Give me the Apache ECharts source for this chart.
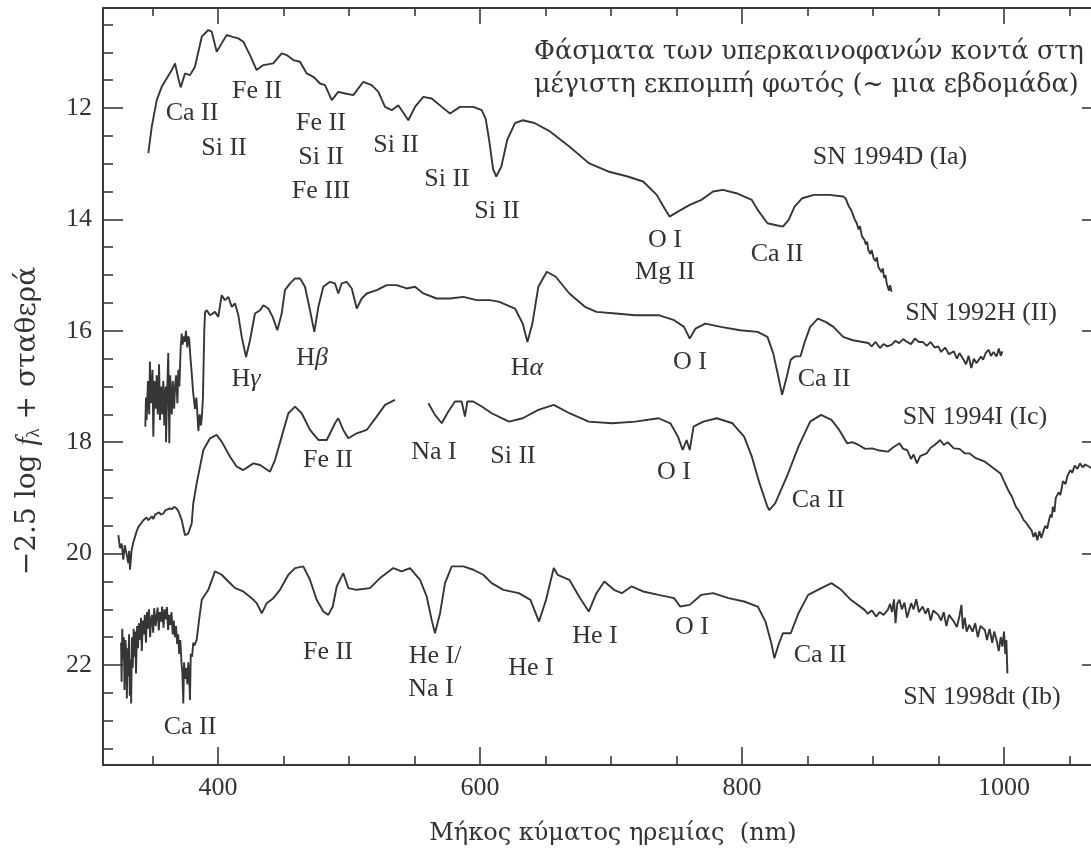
<!DOCTYPE html>
<html><head><meta charset="utf-8">
<script src="https://cdn.jsdelivr.net/npm/echarts@6/dist/echarts.min.js"></script>
<style>html,body{margin:0;padding:0;background:#fff}#c{width:1091px;height:851px}</style>
</head><body><div id="c"></div>
<script>
// ---------- data (wavelength nm, -2.5 log f + const) ----------
const xMajorTicks = [400, 600, 800, 1000];
const xMinorTicks = [350, 450, 500, 550, 650, 700, 750, 850, 900, 950, 1050];
const yMajorTicks = [12, 14, 16, 18, 20, 22];
const yMinorTicks = [10.5, 11, 11.5, 12.5, 13, 13.5, 14.5, 15, 15.5, 16.5, 17, 17.5, 18.5, 19, 19.5, 20.5, 21, 21.5, 22.5, 23, 23.5];

const sn1994D = [
[346.8,12.81],[349.4,12.34],[353.2,11.86],[357,11.62],[360.8,11.47],[364.7,11.32],[367.2,11.2],[369.7,11.47],[371.5,11.63],[374.8,11.38],[378.6,11.41],[382.4,11.26],[387.6,10.72],[392.6,10.6],[395.2,10.63],[399,10.99],[402.8,10.84],[406.6,10.69],[410.5,10.72],[415.5,10.75],[419.3,10.81],[424.4,11.05],[429.5,11.32],[434.6,11.23],[442.2,11.2],[448.6,11.02],[452.4,11.05],[457.5,11.14],[462.6,11.17],[467.7,11.38],[472.8,11.44],[477.9,11.56],[481.7,11.59],[486.8,11.86],[491.8,11.71],[497,11.74],[503.3,11.77],[510.9,11.53],[517.3,11.59],[522.4,11.71],[527.5,11.98],[532.6,12.04],[537.6,11.95],[545.3,12.22],[550.4,11.98],[556.7,11.8],[563.1,11.83],[570.8,11.98],[577.1,12.1],[584.7,11.98],[594.9,11.98],[601.3,12.04],[604.4,12.2],[607.1,12.6],[610,13.1],[612.4,13.23],[616.3,13.05],[620.8,12.57],[626.7,12.27],[632.6,12.22],[641.5,12.27],[653.4,12.42],[668.2,12.69],[683,12.99],[697.8,13.14],[712.7,13.23],[724.5,13.32],[734.9,13.56],[740.8,13.8],[744.7,13.95],[751.1,13.86],[760.1,13.74],[769,13.65],[777.9,13.5],[785.3,13.47],[795.7,13.53],[807.5,13.65],[812,13.83],[819.4,14.07],[825.3,14.1],[831.2,14.13],[835.6,14.01],[840.1,13.77],[846,13.62],[855,13.56],[866.8,13.56],[877.2,13.59],[879,13.62],[881.6,13.77],[883,13.82],[884.5,13.9],[886,14.0],[887.6,14.07],[889,14.18],[890,14.12],[891.5,14.3],[893.5,14.37],[894.5,14.45],[895.5,14.4],[896.4,14.55],[898,14.62],[899,14.55],[900.5,14.7],[902,14.75],[903,14.68],[904,14.85],[905.3,14.85],[906.5,14.95],[907.5,14.88],[908.5,15.05],[909.5,15.0],[910.5,15.15],[911.3,15.12],[912.2,15.28],[913,15.18],[914.2,15.3]
];

const sn1992H = [
[344.5,17.72],[345,17.2],[345.5,17.6],[346.5,16.9],[347.5,17.5],[348,16.55],[349,17.3],[350,16.7],[350.6,17.9],[351.5,16.9],[352.5,17.4],[353.2,16.8],[354,17.5],[355,16.6],[355.7,17.6],[356.5,17.0],[357.5,17.5],[358.2,16.9],[359,17.7],[360,17.0],[360.3,18.0],[361,17.3],[362,16.4],[362.8,18.02],[363.5,16.8],[364.7,17.5],[365.5,16.9],[366.5,17.4],[367.2,17.0],[368,16.8],[369,17.3],[369.7,16.7],[370.5,17.0],[371.5,16.3],[372.3,16.05],[373,16.25],[374,16.1],[374.8,16.2],[375.5,16.0],[376.5,16.3],[377.3,16.1],[378,16.15],[379,16.5],[379.9,16.75],[381,17.1],[382.4,17.4],[383.5,17.2],[384.5,17.6],[385,17.8],[386,17.5],[387,17.7],[387.6,17.56],[388.5,17.2],[389.5,16.0],[390.1,15.67],
[391.4,15.63],[393.9,15.72],[397.7,15.66],[400.2,15.75],[402.8,15.36],[405.3,15.45],[407.9,15.39],[410.5,15.57],[413,15.51],[415.5,15.72],[418.1,16.11],[421.4,16.47],[424.4,16.17],[428.2,15.69],[432.1,15.63],[434.6,15.54],[438.4,15.6],[441.7,15.75],[445.3,15.99],[448.6,15.69],[451.1,15.27],[455,15.15],[458.8,15.06],[462.6,15.06],[466.4,15.21],[470.2,15.63],[473.5,16.02],[476.6,15.57],[480.4,15.21],[485.5,15.12],[489.3,15.15],[491.8,15.33],[494.4,15.15],[498.2,15.12],[502.1,15.24],[505.9,15.6],[509.7,15.42],[513.5,15.33],[521.1,15.27],[528.8,15.18],[536.4,15.18],[544,15.24],[550.4,15.21],[556.7,15.33],[566.9,15.42],[577.1,15.42],[587.3,15.39],[597.5,15.45],[607.6,15.45],[614.8,15.48],[626.7,15.6],[632.6,15.87],[636.2,16.2],[640,15.87],[644.5,15.21],[651,14.94],[657.8,15.03],[668.2,15.33],[680.1,15.57],[688.9,15.66],[703.7,15.69],[718.5,15.72],[736.3,15.72],[748.2,15.81],[755.7,15.93],[760.1,16.14],[764.5,15.96],[771.9,15.87],[783.8,15.93],[798.6,15.99],[812,16.02],[819.4,16.11],[823.8,16.4],[827.7,16.82],[830.6,17.15],[834.2,16.82],[837.2,16.52],[840.2,16.46],[844.6,16.46],[847.6,16.22],[852,15.93],[857.9,15.78],[863.8,15.84],[869.8,15.93],[877.2,16.11],[884.6,16.17],[896.4,16.22],
[899,16.28],[902,16.2],[905.3,16.31],[908,16.24],[911,16.28],[914.3,16.25],[917,16.18],[920,16.22],[923,16.15],[926.1,16.2],[929,16.24],[932,16.14],[935,16.2],[937.9,16.2],[941,16.27],[944,16.2],[947,16.3],[949.8,16.28],[952,16.38],[955,16.3],[958,16.42],[961.7,16.37],[964,16.5],[966,16.4],[969.1,16.52],[971,16.6],[973,16.45],[975,16.67],[977,16.5],[979,16.58],[982.4,16.46],[984,16.52],[986,16.4],[988.3,16.34],[990,16.45],[992,16.38],[994.3,16.46],[996,16.32],[997.5,16.45],[998.7,16.37]
];

const sn1994I_blue = [
[323.9,19.67],[325.2,19.9],[326.5,19.82],[327.7,20.11],[328.8,19.85],[329.8,19.88],[330.6,20.05],[331.5,20.17],[332.2,19.95],[332.8,20.29],[334.1,19.93],[335.3,19.8],[336.6,19.7],[337.9,19.6],[339.2,19.52],[340.5,19.55],[341.5,19.45],[343,19.4],[344.5,19.42],[345.5,19.35],[346.8,19.4],[348.1,19.37],[349.5,19.33],[350.6,19.38],[352,19.3],[353.2,19.31],[355,19.26],[356.5,19.3],[358.2,19.28],[360,19.22],[361.5,19.25],[363.4,19.19],[365,19.2],[366.5,19.16],[368.5,19.19],[370,19.25],[372.3,19.4],[374.8,19.67],[377.3,19.64],[379.9,19.46],[381.1,19.1],[383.7,18.74],[388.8,18.14],[393.9,17.93],[399,17.87],[402.8,17.99],[409.2,18.26],[414.3,18.44],[419.3,18.5],[427,18.38],[432.1,18.41],[439.7,18.53],[443.5,18.32],[448.6,17.9],[453.7,17.48],[458.8,17.36],[463.9,17.48],[470.2,17.78],[476.6,17.96],[483,17.96],[489.3,17.66],[491.8,17.57],[495.6,17.78],[499.5,17.93],[505.9,17.84],[513.5,17.78],[521.1,17.54],[527.5,17.33],[535.1,17.24]
];
const sn1994I_red = [
[560.6,17.3],[565.6,17.51],[570.8,17.66],[575.8,17.45],[580.9,17.27],[586,17.27],[588.5,17.54],[590.3,17.27],[594.9,17.27],[601.3,17.36],[608.9,17.48],[615,17.55],[622.2,17.63],[632.6,17.57],[644.5,17.42],[656.3,17.33],[668.2,17.48],[683,17.63],[700.8,17.66],[718.5,17.63],[736.3,17.57],[745.3,17.66],[751.1,17.9],[754.7,18.14],[757.7,17.96],[760.1,18.14],[763,17.72],[770.4,17.63],[780.8,17.57],[792.7,17.66],[801.6,17.9],[807.5,18.26],[813.4,18.74],[819.4,19.16],[820.8,19.22],[825.3,19.1],[834.2,18.62],[843.1,18.08],[852,17.63],[860.3,17.51],[868.3,17.6],[874.2,17.78],[880.2,18.02],[884,18.0],[889,18.05],[894,18.12],[899.4,18.11],[905,18.15],[911.3,18.17],[915,18.1],[920.2,18.02],[923,18.12],[926.1,18.14],[929,18.3],[931,18.22],[933.5,18.38],[936,18.25],[940.9,18.2],[944,18.1],[947,18.05],[951.3,17.96],[954,18.05],[957,18.0],[961.7,18.11],[966,18.12],[970,18.2],[973.5,18.2],[978,18.28],[985.4,18.35],[991,18.45],[997.3,18.56],[1000,18.7],[1002,18.8],[1004,18.9],[1006.1,18.98],[1008,19.1],[1009.1,19.16],[1011,19.22],[1013,19.3],[1015,19.4],[1017,19.45],[1019,19.52],[1021,19.58],[1022.5,19.7],[1024,19.62],[1025.4,19.76],[1027,19.6],[1028.5,19.72],[1029.9,19.61],[1031.5,19.5],[1033,19.55],[1034.3,19.4],[1035.5,19.3],[1036.5,19.35],[1037.2,19.16],[1038.5,19.25],[1039.5,19.0],[1041.7,18.9],[1043,18.95],[1045,18.7],[1047,18.75],[1048.5,18.6],[1050.6,18.5],[1052,18.55],[1054,18.42],[1056,18.48],[1058,18.38],[1060,18.45],[1062,18.4],[1065,18.44],[1066.4,18.46]
];

const sn1998dt = [
[326,21.6],[326.4,22.3],[326.9,21.35],[327.6,21.9],[328.1,21.5],[328.6,22.45],[329.3,21.55],[329.9,21.75],[330.4,22.6],[331,21.7],[331.4,22.2],[332.1,21.45],[332.6,22.55],[333.2,21.9],[333.7,22.69],[334.3,21.5],[334.9,22.05],[335.6,21.35],[336.3,21.85],[336.8,21.4],[337.4,22.15],[338.2,21.3],[338.9,21.7],[339.6,21.25],[340.5,21.55],[341.2,21.15],[341.8,21.75],[342.7,21.2],[343.5,21.45],[344.1,21.1],[345,21.6],[345.8,21.05],[346.4,21.35],[347.3,21.0],[348.2,21.5],[348.8,21.2],[349.6,21.1],[350.5,21.42],[351.3,20.98],[352.4,21.3],[353.1,21.15],[353.9,20.97],[354.8,21.38],[355.6,21.05],[356.7,21.22],[357.3,20.95],[358.4,21.33],[359.2,21.0],[360.1,21.18],[361,20.96],[361.9,21.37],[362.8,21.1],[363.6,21.28],[364.5,21.05],[365.4,21.45],[366.2,21.2],[367.1,21.5],[368,21.3],[368.8,21.62],[369.6,21.45],[370.4,21.8],[371.2,21.55],[372.1,21.95],[372.8,22.15],[373.5,22.69],[374.1,21.95],[374.9,22.25],[375.8,22.05],[376.6,22.35],[377.3,21.95],[378,22.2],[378.6,22.63],[379.2,21.8],[380.2,21.85],[381.1,21.6],[382,21.65],[383.7,21.55],[385.5,21.2],[387.6,20.83],[392.6,20.65],[397.7,20.32],
[402.8,20.38],[407.9,20.5],[413,20.62],[419.3,20.68],[425.7,20.8],[429.5,20.89],[433.4,21.07],[437.2,20.89],[442.2,20.8],[447.3,20.65],[453.7,20.38],[458.8,20.26],[465.1,20.23],[470.2,20.47],[475.3,20.83],[480.4,21.04],[484.2,21.1],[487.6,20.95],[490.6,20.59],[495.6,20.35],[499.5,20.62],[505.9,20.65],[516,20.62],[523.7,20.44],[533.8,20.26],[540.2,20.32],[546.6,20.26],[554.2,20.47],[559.3,20.77],[563.1,21.19],[565.6,21.43],[569.5,21.07],[573.3,20.53],[578.4,20.23],[587.3,20.23],[594.9,20.29],[602.5,20.38],[608.9,20.53],[617.8,20.65],[629.6,20.71],[638.5,20.83],[645,21.22],[650.4,20.83],[656.3,20.26],[659.3,20.38],[668.2,20.47],[675.6,20.77],[683,21.04],[688.9,20.71],[694.9,20.5],[702.3,20.65],[708.2,20.71],[715.6,20.59],[724.5,20.68],[736.3,20.74],[748.2,20.8],[752.7,20.95],[760.1,20.92],[769,20.74],[777.9,20.71],[789.7,20.8],[801.6,20.86],[812,20.95],[817.9,21.22],[822.4,21.61],[824.7,21.88],[828.2,21.61],[831.2,21.43],[837.2,21.43],[843.1,21.07],[850.5,20.74],[857.9,20.65],[868.3,20.53],[875.7,20.65],[883.1,20.83],[893.5,21.01],
[896,21.08],[899,21.02],[902.4,21.13],[905,21.05],[908,21.1],[911.3,21.01],[913,20.9],[914.5,21.05],[916,20.82],[917.2,21.25],[918.5,20.9],[920.2,20.83],[922,21.0],[924,20.88],[926,21.15],[929.1,20.89],[931,21.0],[933,20.82],[935,21.05],[937.9,20.95],[940,21.08],[942,20.98],[944,21.2],[946,21.02],[949.8,21.1],[952,21.2],[954,21.05],[956,21.3],[958,21.1],[961.7,21.22],[964,21.32],[966,21.12],[967.5,20.92],[968.6,21.35],[970,21.15],[971.5,21.4],[973.5,21.28],[976,21.4],[978,21.25],[980,21.5],[982,21.3],[985.4,21.37],[987,21.55],[989,21.35],[991,21.6],[992.5,21.4],[994.3,21.55],[996,21.75],[997.5,21.5],[998.7,21.67],[1000,21.4],[1001,21.8],[1001.8,21.55],[1002.6,22.15]
];

// annotation texts
const lineLabels = ['Ca II','Fe II','Si II','Fe II','Si II','Fe III','Si II','Si II','Si II','O I','Mg II','Ca II',
  'H{i|γ}','H{i|β}','H{i|α}','O I','Ca II',
  'Fe II','Na I','Si II','O I','Ca II',
  'Fe II','He I/','Na I','He I','He I','O I','Ca II','Ca II'];
const snNames = ['SN 1994D (Ia)','SN 1992H (II)','SN 1994I (Ic)','SN 1998dt (Ib)'];
const titleLines = ['Φάσματα των υπερκαινοφανών κοντά στη','μέγιστη εκπομπή φωτός (~ μια εβδομάδα)'];
const xTitle = 'Μήκος κύματος ηρεμίας  (nm)';
const yTitle = '−2.5 log {i|f}{s|λ} + σταθερά';

// ---------- layout ----------
const lineLabelPos = [[192,113],[257,91],[224,148],[321,123],[321,157],[321,191],[396,145],[447,179],[497,211],[665,240],[665,272],[777,254],
  [246,379],[312,358],[527,368],[690,362],[824,379],
  [328,460],[434,452],[513,456],[674,472],[818,500],
  [328,652],[435,656],[431,689],[531,668],[595,636],[692,627],[820,655],[190,727]];
const snPos = [[890,157],[981,313],[975,417],[982,697]];

const FONT = '"Liberation Serif", "DejaVu Serif", serif';
const GFONT = '"DejaVu Serif", "Liberation Serif", serif';
const INK = '#333';
const rich = {
  i: {fontFamily: FONT, fontSize: 26, fontStyle: 'italic', fill: INK},
  s: {fontFamily: FONT, fontSize: 17, fill: INK, padding: [12, 0, 0, 0]}
};
const richY = {
  i: {fontFamily: FONT, fontSize: 29, fontStyle: 'italic', fill: INK},
  s: {fontFamily: FONT, fontSize: 19, fill: INK, padding: [13, 0, 0, 0]}
};
function txt(t, x, y, extra) {
  extra = extra || {};
  const el = {type: 'text', x: x, y: y, silent: true,
    style: Object.assign({text: t, fontFamily: FONT, fontSize: 26, fill: INK, align: 'center', verticalAlign: 'middle', rich: rich}, extra.style || {})};
  if (extra.rotation !== undefined) el.rotation = extra.rotation;
  return el;
}
const graphics = [];
lineLabels.forEach((t, k) => graphics.push(txt(t, lineLabelPos[k][0], lineLabelPos[k][1])));
snNames.forEach((t, k) => graphics.push(txt(t, snPos[k][0], snPos[k][1])));
graphics.push(txt(titleLines[0], 534, 52, {style: {align: 'left', fontFamily: GFONT, fontSize: 25.5}}));
graphics.push(txt(titleLines[1], 534, 85, {style: {align: 'left', fontFamily: GFONT, fontSize: 25.5}}));
graphics.push(txt(xTitle, 613, 834, {style: {fontFamily: GFONT, fontSize: 24}}));
graphics.push(txt(yTitle, 28, 421, {rotation: Math.PI / 2, style: {fontFamily: GFONT, fontSize: 28, rich: richY}}));

const XMIN = 312.2, XMAX = 1066.4, YMIN = 10.205, YMAX = 23.795;
const AX = '#3a3a3a';
function xAx(pos, ticks, len, showLine, labels) {
  return {type: 'value', position: pos, min: XMIN, max: XMAX, gridIndex: 0,
    axisLine: {show: showLine, onZero: false, lineStyle: {color: AX, width: 2}},
    axisTick: {show: true, inside: true, length: len, customValues: ticks, lineStyle: {color: AX, width: 1.6}},
    axisLabel: labels ? {show: true, customValues: xMajorTicks, formatter: v => String(v), margin: 10, fontFamily: FONT, fontSize: 26, color: INK} : {show: false},
    splitLine: {show: false}};
}
function yAx(pos, ticks, len, showLine, labels) {
  return {type: 'value', position: pos, inverse: true, min: YMIN, max: YMAX, gridIndex: 0,
    axisLine: {show: showLine, onZero: false, lineStyle: {color: AX, width: 2}},
    axisTick: {show: len > 0, inside: true, length: len, customValues: ticks, lineStyle: {color: AX, width: 1.6}},
    axisLabel: labels ? {show: true, customValues: yMajorTicks, formatter: v => String(v), margin: 11, fontFamily: FONT, fontSize: 26, color: INK} : {show: false},
    splitLine: {show: false}};
}
const lineStyle = {color: '#363636', width: 1.9};
function ser(d) {
  return {type: 'line', data: d, xAxisIndex: 0, yAxisIndex: 0, showSymbol: false, symbol: 'none',
    lineStyle: lineStyle, clip: true, animation: false, z: 3};
}
const chart = echarts.init(document.getElementById('c'), null, {renderer: 'canvas'});
chart.setOption({
  backgroundColor: '#fff',
  animation: false,
  grid: {left: 103, top: 8, right: 0, height: 757, containLabel: false},
  xAxis: [xAx('bottom', xMajorTicks, 18, true, true), xAx('bottom', xMinorTicks, 9, false, false),
          xAx('top', xMajorTicks, 16, true, false), xAx('top', xMinorTicks, 8, false, false)],
  yAxis: [yAx('left', yMajorTicks, 20, true, true), yAx('left', yMinorTicks, 10, false, false),
          yAx('right', yMajorTicks, 9, false, false)],
  series: [ser(sn1994D), ser(sn1992H), ser(sn1994I_blue), ser(sn1994I_red), ser(sn1998dt)],
  graphic: {elements: graphics}
});
</script></body></html>
